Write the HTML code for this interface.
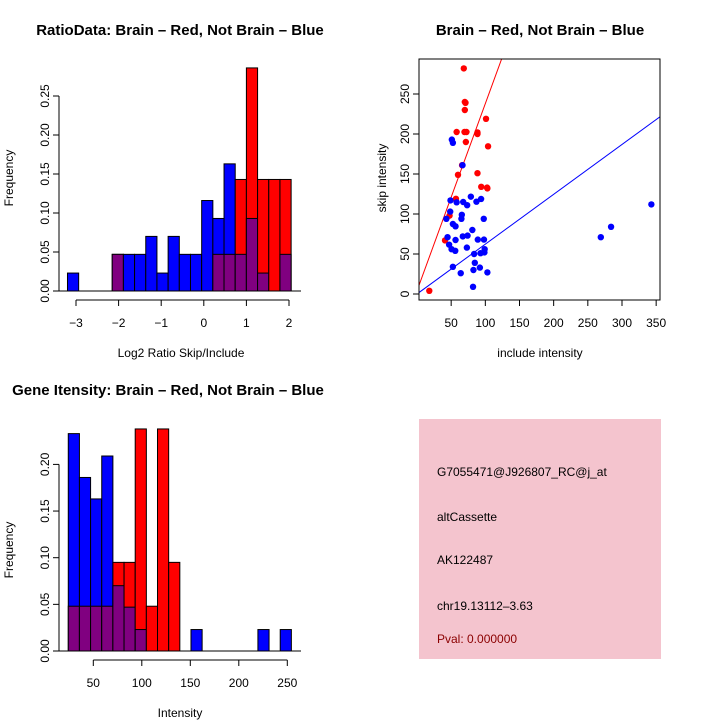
<!DOCTYPE html>
<html><head><meta charset="utf-8"><style>
html,body{margin:0;padding:0;background:#fff;}
svg{display:block;font-family:"Liberation Sans",sans-serif;}
</style></head><body>
<svg id="c" width="720" height="720" viewBox="0 0 720 720">
<rect width="720" height="720" fill="#fff"/>
<text x="180" y="35" text-anchor="middle" font-size="15" font-weight="bold">RatioData: Brain – Red, Not Brain – Blue</text>
<text x="540" y="35" text-anchor="middle" font-size="15" font-weight="bold">Brain – Red, Not Brain – Blue</text>
<text x="168" y="395" text-anchor="middle" font-size="15" font-weight="bold">Gene Itensity: Brain – Red, Not Brain – Blue</text>
<text x="181" y="357" text-anchor="middle" font-size="12">Log2 Ratio Skip/Include</text>
<text transform="translate(13,178) rotate(-90)" text-anchor="middle" font-size="12">Frequency</text>
<text x="540" y="357" text-anchor="middle" font-size="12">include intensity</text>
<text transform="translate(386,178) rotate(-90)" text-anchor="middle" font-size="12">skip intensity</text>
<text x="180" y="717" text-anchor="middle" font-size="12">Intensity</text>
<text transform="translate(13,550) rotate(-90)" text-anchor="middle" font-size="12">Frequency</text>
<g>
<rect x="419" y="419" width="242" height="240" fill="#f4c4ce"/>
<text x="437" y="476" font-size="12">G7055471@J926807_RC@j_at</text>
<text x="437" y="521" font-size="12">altCassette</text>
<text x="437" y="564" font-size="12">AK122487</text>
<text x="437" y="610" font-size="12">chr19.13112–3.63</text>
<text x="437" y="643" font-size="12" fill="#8b0000">Pval: 0.000000</text>
</g>
<g id="g1"></g><g id="g2"></g><g id="g3"></g>
</svg>
<script>
// Ratio histogram data
const ratioBreakStart = -3.2;
const ratioBinWidth = 0.2625;
const ratioBlue = [0.023,0,0,0,0.047,0.047,0.047,0.07,0.023,0.07,0.047,0.047,0.116,0.093,0.163,0.047,0.093,0.023,0,0.047];
const ratioRed = [0,0,0,0,0.047,0,0,0,0,0,0,0,0,0.047,0.047,0.143,0.286,0.143,0.143,0.143];
const ratioXTicks = [-3,-2,-1,0,1,2];
const ratioYTicks = [0,0.05,0.10,0.15,0.20,0.25];
const ratioYLabels = ["0.00","0.05","0.10","0.15","0.20","0.25"];
// Intensity histogram data
const intBreakStart = 24.2;
const intBinWidth = 11.5;
const intBlue = [0.233,0.186,0.163,0.209,0.07,0.047,0.023,0,0,0,0,0.023,0,0,0,0,0,0.023,0,0.023];
const intRed = [0.048,0.048,0.048,0.048,0.095,0.095,0.238,0.048,0.238,0.095,0,0,0,0,0,0,0,0,0,0];
const intXTicks = [50,100,150,200,250];
const intYTicks = [0,0.05,0.10,0.15,0.20];
const intYLabels = ["0.00","0.05","0.10","0.15","0.20"];
// Scatter data
const redInclude = [68.5,70,71,70,101,58,69.5,72.4,88.5,88.5,71.5,104,66,60,88.5,94,102.6,103,57,47.6,41,18];
const redSkip = [282,240,239,230,219,202.5,202.5,202.5,202,200,190,184.6,161,149,151,134,133,132,119,98,67,4];
const blueInclude = [51,52.5,66.6,49,58,78.8,67.6,73.4,93.8,87,43,48.6,65.6,65,97.7,52.5,56.4,44.7,56.4,47,67,74,81,89,98,50.6,56,73,83.6,99,98.7,93,84.6,52.5,64,82.6,92,103,82,269,284,343];
const blueSkip = [193,189,161,117,114.6,121.7,115,111,118.8,115.4,94,103,99,94,94,87.5,84.6,71,67.5,61.7,72,73,80,68,68,56,54,58,50,56,52,51,39,34,26,30,33,27,9,71,84,112];
const redFit = [4, 2.34];
const blueFit = [0, 0.623];
const scXTicks = [50,100,150,200,250,300,350];
const scYTicks = [0,50,100,150,200,250];

const NS = "http://www.w3.org/2000/svg";
function mk(parent, tag, attrs){const e=document.createElementNS(NS,tag);for(const k in attrs)e.setAttribute(k,attrs[k]);parent.appendChild(e);return e;}

function hist(g, start, bw, blue, red, xs, ys, xTicks, yTicks, yLabels, o){
  const ln = (x1,y1,x2,y2)=>mk(g,'line',{x1,y1,x2,y2,stroke:'#000','stroke-width':1});
  for(let i=0;i<blue.length;i++){
    const x0=xs(start+i*bw), x1=xs(start+(i+1)*bw);
    const b=blue[i], r=red[i], hi=Math.max(b,r), lo=Math.min(b,r);
    if(hi<=0) continue;
    const top = mk(g,'rect',{x:x0,y:ys(hi),width:x1-x0,height:ys(0)-ys(hi),fill:r>b?'#ff0000':'#0000ff',stroke:'#000','stroke-width':1});
    
    
    if(lo>0){
      const p = mk(g,'rect',{x:x0,y:ys(lo),width:x1-x0,height:ys(0)-ys(lo),fill:'#800080',stroke:'#000','stroke-width':1});
      
      
    }
  }
  ln(o.axX,ys(0),o.baseEnd,ys(0));
  ln(o.axX,ys(yTicks[0]),o.axX,ys(yTicks[yTicks.length-1]));
  yTicks.forEach((t,i)=>{ln(o.axX-6,ys(t),o.axX,ys(t));
    const tx=mk(g,'text',{transform:`translate(${o.axX-10},${ys(t)}) rotate(-90)`,'text-anchor':'middle','font-size':12});
    tx.textContent=yLabels[i];
    
    });
  ln(xs(xTicks[0]),o.xAxY,xs(xTicks[xTicks.length-1]),o.xAxY);
  xTicks.forEach(t=>{ln(xs(t),o.xAxY,xs(t),o.xAxY+6);
    const tx=mk(g,'text',{x:xs(t),y:o.xAxY+27,'text-anchor':'middle','font-size':12});
    tx.textContent=t<0?'\u2212'+(-t):String(t);
    
    });
}
const g1=document.getElementById('g1');


hist(g1, ratioBreakStart, ratioBinWidth, ratioBlue, ratioRed,
  v=>76+(v+3)*42.6, v=>291-v*780, ratioXTicks, ratioYTicks, ratioYLabels, {axX:59, baseEnd:301, xAxY:300});
const g3=document.getElementById('g3');


hist(g3, intBreakStart, intBinWidth, intBlue, intRed,
  v=>44.8+v*0.97, v=>651-v*933, intXTicks, intYTicks, intYLabels, {axX:59, baseEnd:301, xAxY:660});

// scatter
const g2=document.getElementById('g2');


const sx=v=>417+v*0.6833, sy=v=>294-v*0.8;
const L=419,R=660,T=59,B=300;
const clip=mk(g2,'clipPath',{id:'cp'}); mk(clip,'rect',{x:L,y:T,width:R-L,height:B-T});
function fit(f,color,name){
  const xa=(L-417)/0.6833, xb=(R-417)/0.6833;
  const l=mk(g2,'line',{x1:sx(xa),y1:sy(f[0]+f[1]*xa),x2:sx(xb),y2:sy(f[0]+f[1]*xb),stroke:color,'stroke-width':1,'clip-path':'url(#cp)'});
  
  
}
fit(redFit,'#ff0000','brain-fit-line');
fit(blueFit,'#0000ff','not-brain-fit-line');
redInclude.forEach((x,i)=>{const c=mk(g2,'circle',{cx:sx(x),cy:sy(redSkip[i]),r:3.2,fill:'#ff0000'});
  
  });
blueInclude.forEach((x,i)=>{const c=mk(g2,'circle',{cx:sx(x),cy:sy(blueSkip[i]),r:3.2,fill:'#0000ff'});
  
  });
mk(g2,'rect',{x:L,y:T,width:R-L,height:B-T,fill:'none',stroke:'#000','stroke-width':1});
scXTicks.forEach(t=>{mk(g2,'line',{x1:sx(t),y1:B,x2:sx(t),y2:B+6,stroke:'#000'});
  const tx=mk(g2,'text',{x:sx(t),y:B+27,'text-anchor':'middle','font-size':12});tx.textContent=t;
  
  });
scYTicks.forEach(t=>{mk(g2,'line',{x1:L-6,y1:sy(t),x2:L,y2:sy(t),stroke:'#000'});
  const tx=mk(g2,'text',{transform:`translate(${L-10},${sy(t)}) rotate(-90)`,'text-anchor':'middle','font-size':12});tx.textContent=t;
  
  });
</script>
</body></html>
